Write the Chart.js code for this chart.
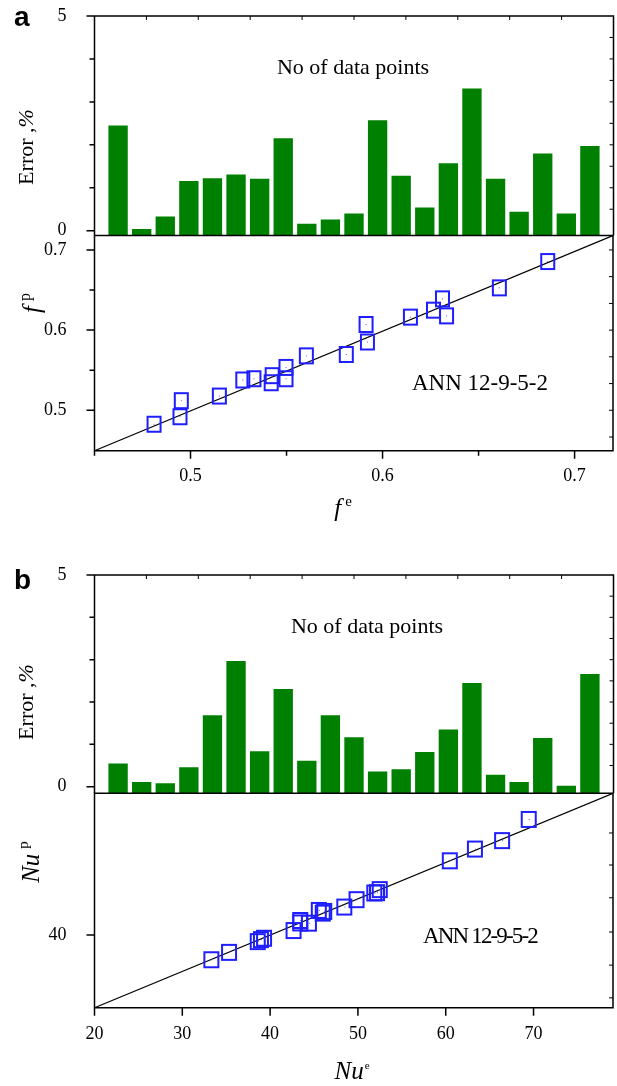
<!DOCTYPE html>
<html><head><meta charset="utf-8">
<script src="https://cdn.jsdelivr.net/npm/chart.js@4.4.0/dist/chart.umd.min.js"></script>
<style>
html,body{margin:0;padding:0;background:#fff;}
body{width:617px;height:1086px;position:relative;overflow:hidden;font-family:"Liberation Serif","Times New Roman",serif;color:#000;}
.cv{position:absolute;left:0;width:617px;}
.t{position:absolute;white-space:nowrap;line-height:1;color:#000;}
.c{transform:translate(-50%,-50%);}
.r{transform:translate(-50%,-50%) rotate(-90deg);}
.lab{font-family:"Liberation Sans",Arial,sans-serif;font-weight:bold;font-size:28px;}
</style></head><body>
<div class="cv" style="top:0;height:240px"><canvas id="barA"></canvas></div>
<div class="cv" style="top:230px;height:290px"><canvas id="scatA"></canvas></div>
<div class="cv" style="top:560px;height:240px"><canvas id="barB"></canvas></div>
<div class="cv" style="top:788px;height:298px"><canvas id="scatB"></canvas></div>

<div class="t lab" style="left:14px;top:3px">a</div>
<div class="t lab" style="left:14px;top:566px">b</div>

<div class="t c" style="left:353px;top:67px;font-size:22px">No of data points</div>
<div class="t c" style="left:367px;top:626px;font-size:22px">No of data points</div>
<div class="t c" style="left:480px;top:382px;font-size:23px">ANN 12-9-5-2</div>
<div class="t c" style="left:480px;top:935px;font-size:23px;letter-spacing:-1.85px">ANN 12-9-5-2</div>

<div class="t r" style="left:26px;top:147px;font-size:22px">Error ,<i>%</i></div>
<div class="t r" style="left:26px;top:702px;font-size:22px">Error ,<i>%</i></div>

<div class="t r" style="left:31px;top:303px;font-size:25px"><i>f</i><span style="font-size:16px;position:relative;top:-10px;margin-left:5px">p</span></div>
<div class="t r" style="left:30px;top:862px;font-size:25px"><i>Nu</i><span style="font-size:15px;position:relative;top:-11px;margin-left:5px">p</span></div>
<div class="t c" style="left:343px;top:507px;font-size:25px"><i>f</i><span style="font-size:15px;position:relative;top:-10px;margin-left:4px">e</span></div>
<div class="t c" style="left:352px;top:1070px;font-size:25px"><i>Nu</i><span style="font-size:11px;position:relative;top:-10px;margin-left:1px">e</span></div>

<script>
// ---------- data ----------
const pointNo = [1,2,3,4,5,6,7,8,9,10,11,12,13,14,15,16,17,18,19,20,21];
const errA = [2.45,0.04,0.33,1.16,1.22,1.31,1.21,2.15,0.16,0.26,0.40,2.57,1.28,0.54,1.57,3.31,1.21,0.44,1.80,0.40,1.97];
const errB = [0.55,0.11,0.08,0.46,1.69,2.97,0.84,2.31,0.61,1.69,1.17,0.36,0.41,0.82,1.35,2.45,0.28,0.11,1.15,0.02,2.66];
const feA = [0.481,0.4945,0.4952,0.5150,0.5272,0.5330,0.5420,0.5425,0.5497,0.5497,0.5603,0.5811,0.5914,0.5921,0.6145,0.6265,0.6312,0.6333,0.6608,0.6860];
const fpA = [0.4826,0.4920,0.5120,0.5178,0.5378,0.5394,0.5344,0.5432,0.5394,0.5535,0.5679,0.5696,0.6070,0.5852,0.6162,0.6249,0.6390,0.6178,0.6527,0.6855];
const nueB = [33.31,35.32,38.59,38.95,39.31,42.67,43.43,43.43,44.42,45.54,45.99,46.16,48.45,49.84,51.86,52.17,52.48,60.46,63.32,66.42,69.45];
const nupB = [33.18,35.21,38.16,38.71,39.08,41.20,43.96,43.30,43.23,46.73,45.99,46.45,47.65,49.68,51.52,51.61,52.44,60.37,63.59,65.90,71.73];
const barTicks = [0,5];
const barMinor = [1,2,3,4];
const fTicks = [0.5,0.6,0.7];
const fMinor = [0.55,0.65];
const fRangeX = [0.45,0.72];
const fRangeY = [0.4496,0.718];
const nuTicksX = [20,30,40,50,60,70];
const nuTicksY = [40];
const nuRangeX = [20,79.05];
const nuRangeY = [20,78.9];

Chart.defaults.font.family = '"Liberation Serif","Times New Roman",serif';
Chart.defaults.font.size = 18;
Chart.defaults.color = '#000';

// frame / tick plugin
const framePlugin = {
  id:'frame',
  afterDraw(chart, args, o){
    const ctx = chart.ctx, a = chart.chartArea, xs = chart.scales.x, ys = chart.scales.y;
    ctx.save();
    ctx.strokeStyle = '#000'; ctx.lineWidth = 1.5; ctx.lineCap='butt';
    ctx.beginPath();
    const s = o.sides || '';
    if (s.includes('l')) { ctx.moveTo(a.left, a.top); ctx.lineTo(a.left, a.bottom); }
    if (s.includes('r')) { ctx.moveTo(a.right, a.top); ctx.lineTo(a.right, a.bottom); }
    if (s.includes('t')) { ctx.moveTo(a.left-0.75, a.top); ctx.lineTo(a.right+0.75, a.top); }
    if (s.includes('b')) { ctx.moveTo(a.left-0.75, a.bottom); ctx.lineTo(a.right+0.75, a.bottom); }
    (o.leftMajor||[]).forEach(v=>{const p=ys.getPixelForValue(v); ctx.moveTo(a.left-8,p); ctx.lineTo(a.left,p);});
    (o.leftMinor||[]).forEach(v=>{const p=ys.getPixelForValue(v); ctx.moveTo(a.left-5,p); ctx.lineTo(a.left,p);});
    (o.bottomMajor||[]).forEach(v=>{const p=xs.getPixelForValue(v); ctx.moveTo(p,a.bottom); ctx.lineTo(p,a.bottom+8);});
    (o.bottomMinor||[]).forEach(v=>{const p=xs.getPixelForValue(v); ctx.moveTo(p,a.bottom); ctx.lineTo(p,a.bottom+5);});
    ctx.stroke();
    ctx.lineWidth = 1;
    ctx.beginPath();
    (o.rightIn||[]).forEach(v=>{const p=ys.getPixelForValue(v); ctx.moveTo(a.right-4,p); ctx.lineTo(a.right,p);});
    (o.topIn||[]).forEach(f=>{const p=a.left+(a.right-a.left)*f; ctx.moveTo(p,a.top); ctx.lineTo(p,a.top+4);});
    ctx.stroke();
    ctx.restore();
  }
};

function makeBox(w,h){
  const c = document.createElement('canvas');
  c.width = w+4; c.height = h+4;
  const x = c.getContext('2d');
  x.strokeStyle = '#1e1eff'; x.lineWidth = 2;
  x.strokeRect(2,2,w,h);
  x.fillStyle = '#5a5aff';
  x.fillRect(Math.floor((w+4)/2), Math.floor((h+4)/2), 1, 1);
  return c;
}
const boxA = makeBox(13,15);
const boxB = makeBox(14,15);

// adjust layout padding so the plot area lands on the wanted pixels
function calibrate(chart, cfg, target){
  const p = cfg.options.layout.padding;
  for (let k=0;k<5;k++){
    const a = chart.chartArea;
    const dl = target.left - a.left, dr = a.right - target.right;
    const dt = target.top - a.top, db = a.bottom - target.bottom;
    if (Math.abs(dl)+Math.abs(dr)+Math.abs(dt)+Math.abs(db) < 0.05) break;
    p.left += dl; p.right += dr; p.top += dt; p.bottom += db;
    chart.update('none');
  }
}

function barChart(id, errs, yMin, area){
  const cfg = {
    type:'bar',
    data:{datasets:[{
      data: pointNo.map((n,i)=>({x:n, y:errs[i]})),
      backgroundColor:'#008000', borderWidth:0, base:yMin,
      categoryPercentage:1, barPercentage:0.82
    }]},
    options:{
      responsive:true, maintainAspectRatio:false, animation:false,
      layout:{padding:{top:area.top, bottom:4, left:0, right:3.5}},
      plugins:{legend:{display:false}, tooltip:{enabled:false},
        frame:{sides:'ltr', leftMajor:barTicks, leftMinor:barMinor,
               rightIn:[0.5,1,1.5,2,2.5,3,3.5,4,4.5], topIn:[0.1,0.2,0.3,0.4,0.5,0.6,0.7,0.8,0.9]}},
      scales:{
        x:{type:'linear', min:0, max:22, display:false, offset:false, grid:{offset:false}},
        y:{min:yMin, max:5, grid:{display:false}, border:{display:false},
           afterBuildTicks:s=>{s.ticks = barTicks.map(v=>({value:v}));},
           ticks:{padding:20, callback:v=>String(v)},
           afterFit:s=>{s.width=94.5; s.paddingTop=0; s.paddingBottom=0;}}
      }
    },
    plugins:[framePlugin]
  };
  const ch = new Chart(document.getElementById(id), cfg);
  calibrate(ch, cfg, area);
  return ch;
}

function scatChart(id, xv, yv, rx, ry, xTicks, yTicks, fmt, area, xPad, frame, img){
  const cfg = {
    type:'scatter',
    data:{datasets:[
      {type:'line', data:[{x:rx[0],y:ry[0]},{x:rx[1],y:ry[1]}],
       borderColor:'#000', borderWidth:1.2, pointRadius:0, fill:false, order:2},
      {data: xv.map((x,i)=>({x:x, y:yv[i]})), pointStyle:img, pointRadius:0.5, pointBorderWidth:0,
       backgroundColor:'rgba(0,0,0,0)', borderColor:'#1e1eff', showLine:false, order:1}
    ]},
    options:{
      responsive:true, maintainAspectRatio:false, animation:false,
      layout:{padding:{top:area.top, bottom:0, left:0, right:3.5}},
      plugins:{legend:{display:false}, tooltip:{enabled:false}, frame:frame},
      scales:{
        x:{type:'linear', min:rx[0], max:rx[1], grid:{display:false}, border:{display:false},
           afterBuildTicks:s=>{s.ticks = xTicks.map(v=>({value:v}));},
           ticks:{padding:xPad, maxRotation:0, callback:fmt},
           afterFit:s=>{s.paddingLeft=0; s.paddingRight=0;}},
        y:{type:'linear', min:ry[0], max:ry[1], grid:{display:false}, border:{display:false},
           afterBuildTicks:s=>{s.ticks = yTicks.map(v=>({value:v}));},
           ticks:{padding:20, callback:fmt},
           afterFit:s=>{s.width=94.5; s.paddingTop=0; s.paddingBottom=0;}}
      }
    },
    plugins:[framePlugin]
  };
  const ch = new Chart(document.getElementById(id), cfg);
  calibrate(ch, cfg, area);
  return ch;
}

// plot areas in canvas coordinates (canvas tops: 0, 230, 560, 788)
barChart('barA', errA, -0.112, {left:94.5, right:613.5, top:16, bottom:235.5});
barChart('barB', errB, -0.156, {left:94.5, right:613.5, top:15, bottom:233.3});

scatChart('scatA', feA, fpA, fRangeX, fRangeY, fTicks, fTicks, v=>Number(v).toFixed(1),
  {left:94.5, right:613.5, top:5.5, bottom:220.7}, 7,
  {sides:'lrtb', leftMajor:fTicks, leftMinor:fMinor, bottomMajor:fTicks, bottomMinor:[0.45,0.55,0.65],
   rightIn:[0.4667,0.5,0.5333,0.5667,0.6,0.6333,0.6667,0.7]}, boxA);

scatChart('scatB', nueB, nupB, nuRangeX, nuRangeY, nuTicksX, nuTicksY, v=>String(v),
  {left:94.5, right:613.5, top:5.3, bottom:219.7}, 8,
  {sides:'lrtb', leftMajor:nuTicksY, bottomMajor:nuTicksX,
   rightIn:[22.7,31.7,40.8,50.2,59.2,68]}, boxB);
</script>
</body></html>
